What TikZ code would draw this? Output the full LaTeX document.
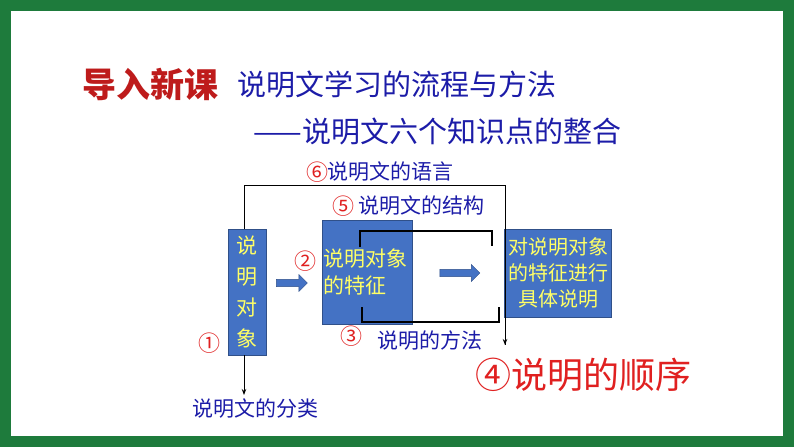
\documentclass[tikz,border=0pt]{standalone}
\usepackage{fontspec}
\setmainfont{Noto Sans CJK SC}
\usetikzlibrary{shapes.arrows,arrows.meta}
\definecolor{gr}{HTML}{1E7B3C}
\definecolor{bb}{HTML}{4472C4}
\definecolor{yy}{HTML}{FFFF66}
\definecolor{tb}{HTML}{1C1CA8}
\definecolor{rr}{HTML}{E02020}
\tikzset{
 box/.style={draw=bb!70!black,fill=bb,text=yy,inner sep=1pt,align=center,font=\fontsize{20}{26}\selectfont},
 lab/.style={text=tb,font=\fontsize{21}{24}\selectfont,inner sep=0pt},
 num/.style={text=rr,font=\fontsize{22}{24}\selectfont,inner sep=0pt},
 bar/.style={black,line width=1.3pt},
 fat/.style={single arrow,draw=bb!70!black,fill=bb,minimum height=31pt,minimum width=17pt,single arrow head extend=3pt,inner sep=2pt}
}
\begin{document}
\begin{tikzpicture}[x=1pt,y=-1pt]
\fill[gr] (0,0) rectangle (794,447);
\fill[white] (11,11) rectangle (783,436);
\node[text=rr!85!black,font=\fontsize{34}{36}\selectfont\bfseries] (t0) at (150,84) {导入新课};
\node[text=tb,font=\fontsize{29}{32}\selectfont,anchor=west] (t1) at (234,84) {说明文学习的流程与方法};
\node[text=tb,font=\fontsize{29}{32}\selectfont,anchor=west] (t2) at (250,131) {——说明文六个知识点的整合};
\node[box,minimum width=38pt,minimum height=126pt,font=\fontsize{21}{31}\selectfont] (b1) at (247,292) {说\\明\\对\\象};
\node[box,minimum width=90pt,minimum height=104pt,text width=88pt,align=left,font=\fontsize{21}{27}\selectfont] (b2) at (367,272) {说明对象\\的特征};
\node[box,minimum width=107pt,minimum height=88pt] (b3) at (558,273) {对说明对象\\的特征进行\\具体说明};
\node[fat] (a1) at (290,283) {};
\node[fat,minimum height=40pt] (a2) at (458,273) {};
\coordinate (p1) at (244,185);
\coordinate (p2) at (505,185);
\coordinate (p3) at (505,345);
\draw[black,line width=1pt] (p1 |- b1.north) -- (p1) -- (p2) -- (p3);
\draw[-{Stealth[length=6pt]},black,line width=1pt] (p2) -- (p3);
\coordinate (q1) at (244,395);
\draw[-{Stealth[length=6pt]},black,line width=1pt] (q1 |- b1.south) -- (q1);
\draw[bar] (360,247) -- (360,231) -- (492,231) -- (492,246);
\draw[bar] (362,307) -- (362,322) -- (499,322) -- (499,307);
\node[num] (n6) at (317,172) {⑥};
\node[lab,anchor=west] (l6) at (327,172) {说明文的语言};
\node[num] (n5) at (343,206) {⑤};
\node[lab,anchor=west] (l5) at (358,206) {说明文的结构};
\node[num] (n2) at (305,261) {②};
\node[num] (n3) at (351,336) {③};
\node[lab,anchor=west] (l3) at (377,341) {说明的方法};
\node[num] (n1) at (209,343) {①};
\node[lab] (l1) at (255,409) {说明文的分类};
\node[text=rr,font=\fontsize{36}{38}\selectfont,anchor=west] (l4) at (472,375) {④说明的顺序};
\end{tikzpicture}
\end{document}
